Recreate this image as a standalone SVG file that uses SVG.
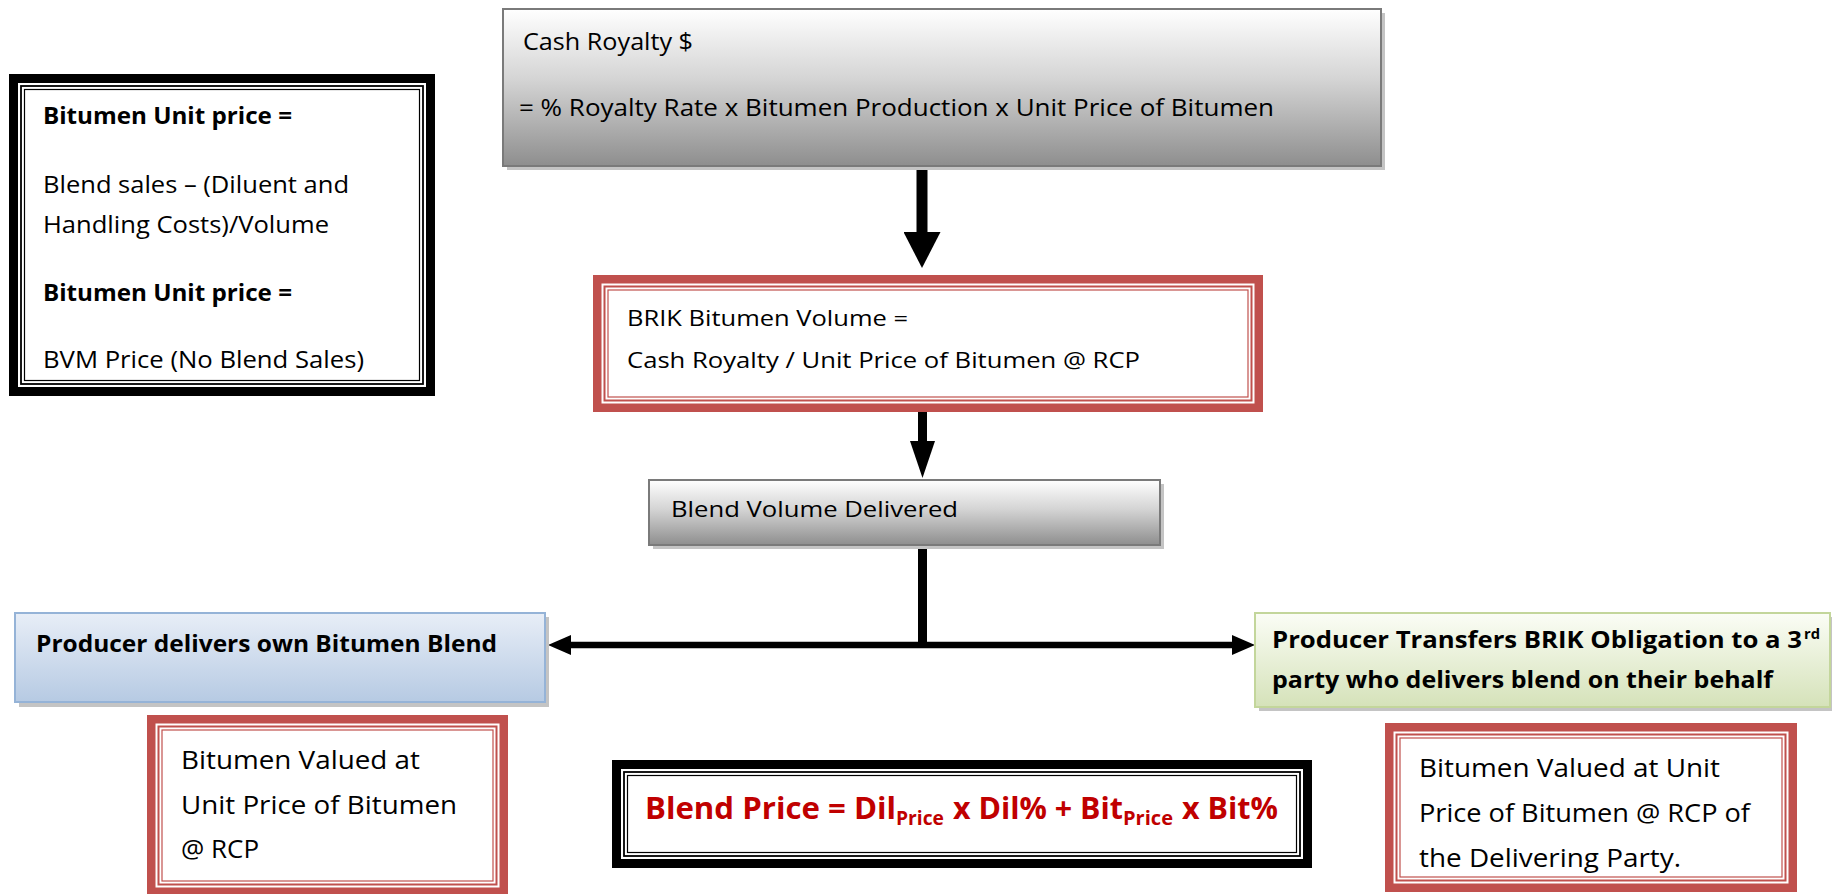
<svg xmlns="http://www.w3.org/2000/svg" width="1832" height="894" viewBox="0 0 1832 894">
<style>
text{font-family:"Open Sans","Noto Sans",Lato,sans-serif;fill:#000}
.r24{font-size:24px}
.r22{font-size:22px}
.r23{font-size:23px}
.r25{font-size:25px}
.b24{font-size:24px;font-weight:bold}
.bp{font-size:31px;font-weight:bold;fill:#c00000}
.bps{font-size:20px;font-weight:bold;fill:#c00000}
.sup{font-size:15px;font-weight:bold}
.shadow{fill:#c4c4c4}
.fk{fill:none;stroke:#000}
.fr{fill:none;stroke:#c0504d}
.conn{stroke:#000;fill:none}
</style>
<defs>
<linearGradient id="gray" x1="0" y1="0" x2="0" y2="1">
<stop offset="0" stop-color="#ffffff"/>
<stop offset="0.45" stop-color="#d4d4d4"/>
<stop offset="1" stop-color="#8e8e8e"/>
</linearGradient>
<linearGradient id="blue" x1="0" y1="0" x2="0" y2="1">
<stop offset="0" stop-color="#e8eef7"/>
<stop offset="1" stop-color="#b6cae3"/>
</linearGradient>
<linearGradient id="green" x1="0" y1="0" x2="0" y2="1">
<stop offset="0" stop-color="#fbfdf6"/>
<stop offset="1" stop-color="#d5e2b9"/>
</linearGradient>
<marker id="m1" markerUnits="userSpaceOnUse" markerWidth="36" markerHeight="37" viewBox="0 0 36 37" refX="0" refY="18.5" orient="auto"><path d="M0,0L36,18.5L0,37z" fill="#000"/></marker>
<marker id="m2" markerUnits="userSpaceOnUse" markerWidth="37" markerHeight="25" viewBox="0 0 37 25" refX="0" refY="12.5" orient="auto"><path d="M0,0L37,12.5L0,25z" fill="#000"/></marker>
<marker id="m3" markerUnits="userSpaceOnUse" markerWidth="23" markerHeight="20" viewBox="0 0 23 20" refX="0" refY="10" orient="auto-start-reverse"><path d="M0,0L23,10L0,20z" fill="#000"/></marker>
</defs>
<rect width="1832" height="894" fill="#fff"/>

<g id="connectors">
<line class="conn" x1="922" y1="166" x2="922" y2="232" stroke-width="11" marker-end="url(#m1)"/>
<line class="conn" x1="922.5" y1="412" x2="922.5" y2="441" stroke-width="9" marker-end="url(#m2)"/>
<line class="conn" x1="922.5" y1="545" x2="922.5" y2="648" stroke-width="9"/>
<path class="conn" d="M571,645H1232" stroke-width="6.5" marker-start="url(#m3)" marker-end="url(#m3)"/>
</g>

<g id="bitumen-unit-price">
<rect x="9" y="74" width="426" height="322" fill="#fff"/>
<rect class="fk" x="13.5" y="78.5" width="417" height="313" stroke-width="9"/>
<rect class="fk" x="21" y="86" width="402" height="298" stroke-width="1.8"/>
<rect class="fk" x="24.5" y="89.5" width="395" height="291" stroke-width="1.2"/>
<text class="b24" x="43" y="124" textLength="249" lengthAdjust="spacingAndGlyphs">Bitumen Unit price =</text>
<text class="r24" x="43" y="193" textLength="306" lengthAdjust="spacingAndGlyphs">Blend sales – (Diluent and</text>
<text class="r24" x="43" y="233" textLength="286" lengthAdjust="spacingAndGlyphs">Handling Costs)/Volume</text>
<text class="b24" x="43" y="301" textLength="249" lengthAdjust="spacingAndGlyphs">Bitumen Unit price =</text>
<text class="r24" x="43" y="368" textLength="321" lengthAdjust="spacingAndGlyphs">BVM Price (No Blend Sales)</text>
</g>

<g id="cash-royalty">
<rect class="shadow" x="507" y="13" width="878" height="157"/>
<rect x="503" y="9" width="878" height="157" fill="url(#gray)" stroke="#7a7a7a" stroke-width="2"/>
<text class="r23" x="523" y="50" textLength="170" lengthAdjust="spacingAndGlyphs">Cash Royalty $</text>
<text class="r23" x="519" y="116" textLength="755" lengthAdjust="spacingAndGlyphs">= % Royalty Rate x Bitumen Production x Unit Price of Bitumen</text>
</g>

<g id="brik-volume">
<rect x="593" y="275" width="670" height="137" fill="#fff"/>
<rect class="fr" x="597.25" y="279.25" width="661.5" height="128.5" stroke-width="8.5"/>
<rect class="fr" x="604.5" y="286.5" width="647" height="114" stroke-width="2"/>
<rect class="fr" x="608" y="290" width="640" height="107" stroke-width="1.2"/>
<text class="r22" x="627" y="326" textLength="281" lengthAdjust="spacingAndGlyphs">BRIK Bitumen Volume =</text>
<text class="r22" x="627" y="368" textLength="513" lengthAdjust="spacingAndGlyphs">Cash Royalty / Unit Price of Bitumen @ RCP</text>
</g>

<g id="blend-volume">
<rect class="shadow" x="653" y="484" width="511" height="65"/>
<rect x="649" y="480" width="511" height="65" fill="url(#gray)" stroke="#7a7a7a" stroke-width="2"/>
<text class="r22" x="671" y="517" textLength="287" lengthAdjust="spacingAndGlyphs">Blend Volume Delivered</text>
</g>

<g id="producer-own">
<rect class="shadow" x="19" y="617" width="530" height="90"/>
<rect x="15" y="613" width="530" height="89" fill="url(#blue)" stroke="#95b3d7" stroke-width="2"/>
<text class="b24" x="36" y="652" textLength="461" lengthAdjust="spacingAndGlyphs">Producer delivers own Bitumen Blend</text>
</g>

<g id="producer-transfers">
<rect class="shadow" x="1259" y="617" width="580" height="94"/>
<rect x="1255" y="613" width="575" height="94" fill="url(#green)" stroke="#c3d69b" stroke-width="2"/>
<text class="b24" x="1272" y="648" textLength="530" lengthAdjust="spacingAndGlyphs">Producer Transfers BRIK Obligation to a 3</text>
<text class="sup" x="1804" y="639" textLength="16" lengthAdjust="spacingAndGlyphs">rd</text>
<text class="b24" x="1272" y="688" textLength="501" lengthAdjust="spacingAndGlyphs">party who delivers blend on their behalf</text>
</g>

<g id="valued-own">
<rect x="147" y="715" width="361" height="181" fill="#fff"/>
<rect class="fr" x="151.25" y="719.25" width="352.5" height="172.5" stroke-width="8.5"/>
<rect class="fr" x="158.5" y="726.5" width="338" height="158" stroke-width="2"/>
<rect class="fr" x="162" y="730" width="331" height="151" stroke-width="1.2"/>
<text class="r25" x="181" y="769" textLength="239" lengthAdjust="spacingAndGlyphs">Bitumen Valued at</text>
<text class="r25" x="181" y="814" textLength="276" lengthAdjust="spacingAndGlyphs">Unit Price of Bitumen</text>
<text class="r25" x="181" y="858" textLength="78" lengthAdjust="spacingAndGlyphs">@ RCP</text>
</g>

<g id="blend-price">
<rect x="612" y="760" width="700" height="108" fill="#fff"/>
<rect class="fk" x="616.5" y="764.5" width="691" height="99" stroke-width="9"/>
<rect class="fk" x="624" y="772" width="676" height="84" stroke-width="1.8"/>
<rect class="fk" x="627.5" y="775.5" width="669" height="77" stroke-width="1.2"/>
<text class="bp" x="645" y="819" textLength="251" lengthAdjust="spacingAndGlyphs">Blend Price = Dil</text>
<text class="bps" x="896" y="825" textLength="48" lengthAdjust="spacingAndGlyphs">Price</text>
<text class="bp" x="953" y="819" textLength="170" lengthAdjust="spacingAndGlyphs">x Dil% + Bit</text>
<text class="bps" x="1123" y="825" textLength="50" lengthAdjust="spacingAndGlyphs">Price</text>
<text class="bp" x="1182" y="819" textLength="96" lengthAdjust="spacingAndGlyphs">x Bit%</text>
</g>

<g id="valued-third-party">
<rect x="1385" y="723" width="412" height="169" fill="#fff"/>
<rect class="fr" x="1389.25" y="727.25" width="403.5" height="160.5" stroke-width="8.5"/>
<rect class="fr" x="1396.5" y="734.5" width="389" height="146" stroke-width="2"/>
<rect class="fr" x="1400" y="738" width="382" height="139" stroke-width="1.2"/>
<text class="r25" x="1419" y="777" textLength="301" lengthAdjust="spacingAndGlyphs">Bitumen Valued at Unit</text>
<text class="r25" x="1419" y="822" textLength="331" lengthAdjust="spacingAndGlyphs">Price of Bitumen @ RCP of</text>
<text class="r25" x="1419" y="867" textLength="262" lengthAdjust="spacingAndGlyphs">the Delivering Party.</text>
</g>
</svg>
